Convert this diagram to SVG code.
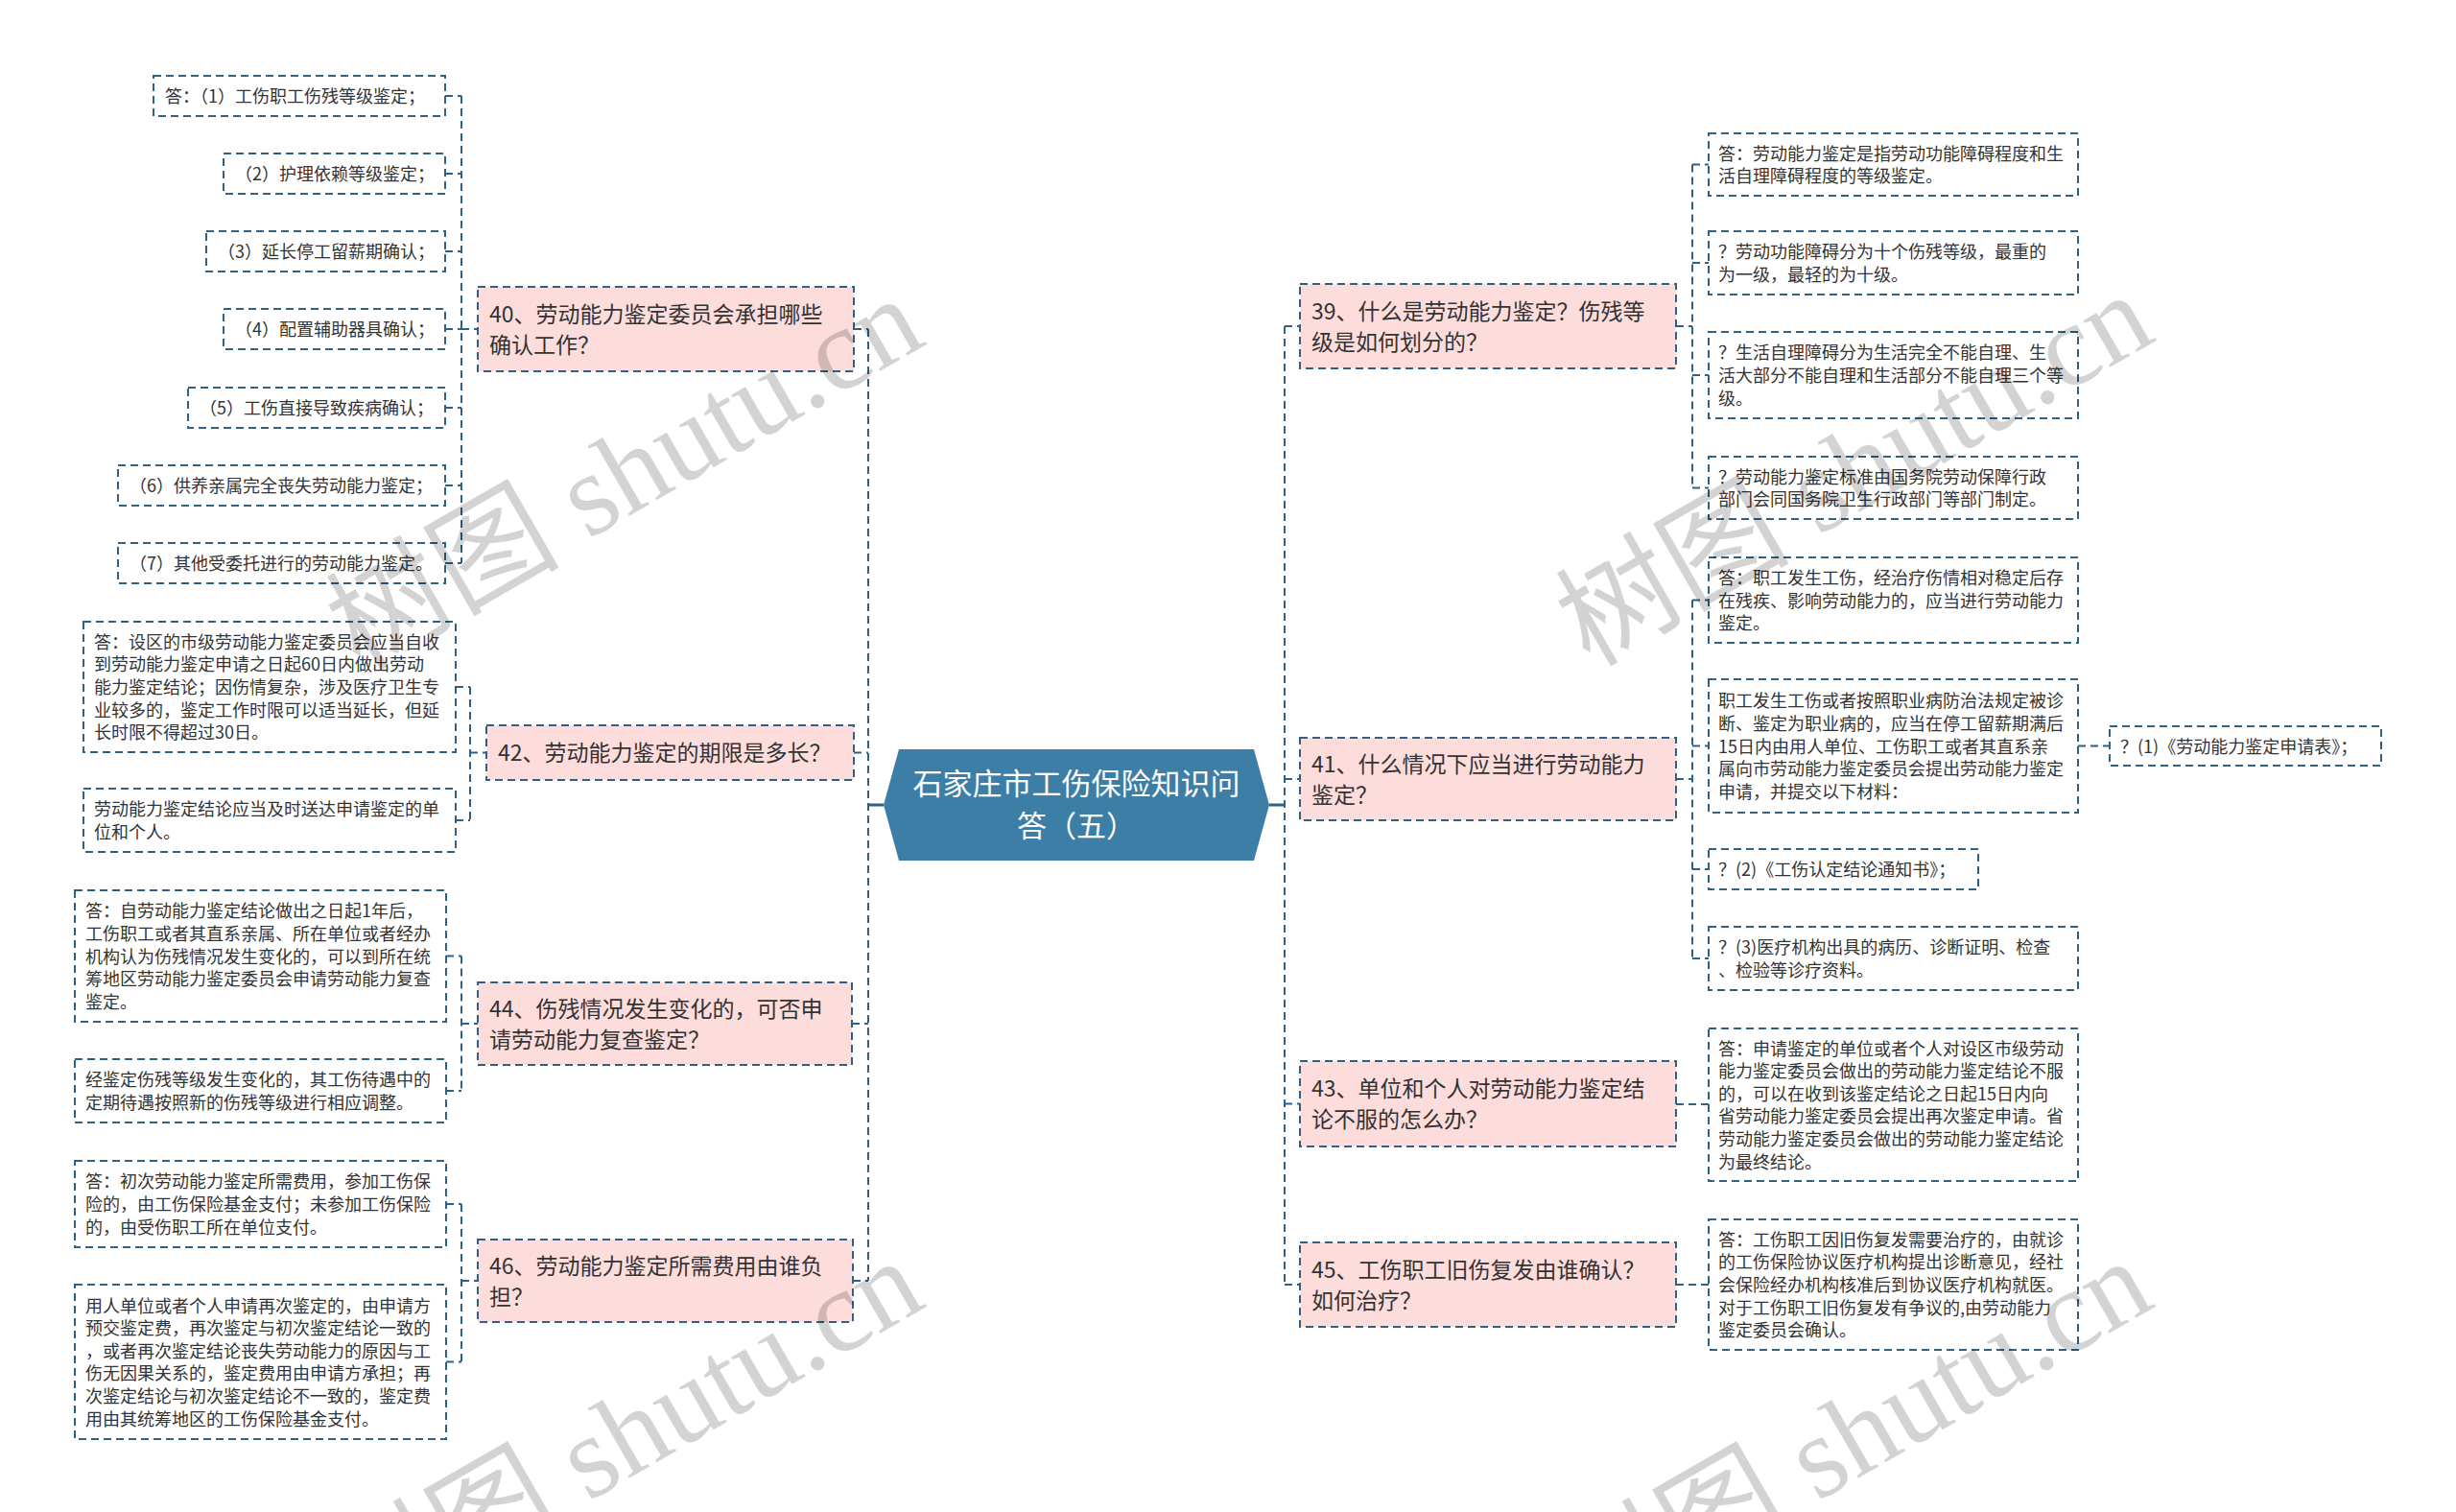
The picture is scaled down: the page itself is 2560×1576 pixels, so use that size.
<svg xmlns="http://www.w3.org/2000/svg" width="2560" height="1576" viewBox="0 0 2560 1576">
<style>
.bg{fill:#ffffff}
.leaf{fill:#ffffff;stroke:#2e6183;stroke-width:2;stroke-dasharray:8 5}
.sub{fill:#fddcdc;stroke:#2e6183;stroke-width:2;stroke-dasharray:8 5}
.root{fill:#3d7ea7}
.t{font-family:"Noto Sans CJK SC","Noto Sans",sans-serif;font-size:18px;fill:#333333}
.ts{font-family:"Noto Sans CJK SC","Noto Sans",sans-serif;font-size:23px;fill:#333333}
.tr{font-family:"Noto Sans CJK SC","Noto Sans",sans-serif;font-size:31px;fill:#ffffff;text-anchor:middle}
.c{fill:none;stroke:#2e6183;stroke-width:2;stroke-dasharray:8 5}
.cs{fill:none;stroke:#2e6183;stroke-width:3}
.wm{font-family:"Liberation Serif","Noto Sans CJK SC",serif;font-size:122px;fill:#000000;opacity:0.17}
</style>
<rect class="bg" x="0" y="0" width="2560" height="1576"/>

<g id="connectors">
  <line class="cs" x1="905" y1="839" x2="921" y2="839"/>
  <line class="cs" x1="1323" y1="839" x2="1339" y2="839"/>
  <path class="c" d="M905 343 V1335 M890 343 H905 M890 784.5 H905 M888 1067 H905 M889 1335 H905"/>
  <path class="c" d="M1339 340 V1339 M1339 340 H1355 M1339 812 H1355 M1339 1150.5 H1355 M1339 1339 H1355"/>
  <path class="c" d="M481 100 V587 M464 100 H481 M464 181 H481 M464 262 H481 M464 343 H481 M464 425 H481 M464 506 H481 M464 587 H481 M481 343 H498"/>
  <path class="c" d="M490 716 V855 M475 716 H490 M475 855 H490 M490 784.5 H507"/>
  <path class="c" d="M481 996.5 V1137 M465 996.5 H481 M465 1137 H481 M481 1067 H498"/>
  <path class="c" d="M481 1255 V1419.5 M465 1255 H481 M465 1419.5 H481 M481 1335 H498"/>
  <path class="c" d="M1764 171.5 V508.5 M1764 171.5 H1781 M1764 274 H1781 M1764 391 H1781 M1764 508.5 H1781 M1747 340 H1764"/>
  <path class="c" d="M1764 625.5 V999 M1764 625.5 H1781 M1764 777.5 H1781 M1764 906 H1781 M1764 999 H1781 M1747 812 H1764"/>
  <path class="c" d="M2166 777.5 H2199"/>
  <path class="c" d="M1747 1151 H1781"/>
  <path class="c" d="M1747 1339 H1781"/>
</g>

<g id="root">
  <polygon class="root" points="921,839 937,781 1307,781 1323,839 1307,897 937,897"/>
  <text class="tr" x="1122" y="828">石家庄市工伤保险知识问</text>
  <text class="tr" x="1122" y="872">答（五）</text>
</g>

<g id="n40">
  <rect class="sub" x="498" y="299" width="392" height="88"/>
  <text class="ts" x="510" y="335.7">40、劳动能力鉴定委员会承担哪些</text>
  <text class="ts" x="510" y="367.7">确认工作？</text>
</g>
<g id="n40-1"><rect class="leaf" x="160" y="79" width="304" height="42"/><text class="t" x="172" y="107">答：（1）工伤职工伤残等级鉴定；</text></g>
<g id="n40-2"><rect class="leaf" x="233" y="160" width="231" height="42"/><text class="t" x="245" y="188">（2）护理依赖等级鉴定；</text></g>
<g id="n40-3"><rect class="leaf" x="215" y="241" width="249" height="42"/><text class="t" x="227" y="269">（3）延长停工留薪期确认；</text></g>
<g id="n40-4"><rect class="leaf" x="233" y="322" width="231" height="42"/><text class="t" x="245" y="350">（4）配置辅助器具确认；</text></g>
<g id="n40-5"><rect class="leaf" x="196" y="404" width="268" height="42"/><text class="t" x="208" y="432">（5）工伤直接导致疾病确认；</text></g>
<g id="n40-6"><rect class="leaf" x="123" y="485" width="341" height="42"/><text class="t" x="135" y="513">（6）供养亲属完全丧失劳动能力鉴定；</text></g>
<g id="n40-7"><rect class="leaf" x="123" y="566" width="341" height="42"/><text class="t" x="135" y="594">（7）其他受委托进行的劳动能力鉴定。</text></g>

<g id="n42">
  <rect class="sub" x="507" y="756" width="383" height="57"/>
  <text class="ts" x="519" y="793">42、劳动能力鉴定的期限是多长？</text>
</g>
<g id="n42-1">
  <rect class="leaf" x="87" y="648" width="388" height="136"/>
  <text class="t" x="98" y="675.8">答：设区的市级劳动能力鉴定委员会应当自收</text>
  <text class="t" x="98" y="699.4">到劳动能力鉴定申请之日起60日内做出劳动</text>
  <text class="t" x="98" y="723">能力鉴定结论；因伤情复杂，涉及医疗卫生专</text>
  <text class="t" x="98" y="746.6">业较多的，鉴定工作时限可以适当延长，但延</text>
  <text class="t" x="98" y="770.2">长时限不得超过30日。</text>
</g>
<g id="n42-2">
  <rect class="leaf" x="87" y="822" width="388" height="66"/>
  <text class="t" x="98" y="850.2">劳动能力鉴定结论应当及时送达申请鉴定的单</text>
  <text class="t" x="98" y="873.8">位和个人。</text>
</g>

<g id="n44">
  <rect class="sub" x="498" y="1024" width="390" height="86"/>
  <text class="ts" x="510" y="1059.7">44、伤残情况发生变化的，可否申</text>
  <text class="ts" x="510" y="1091.7">请劳动能力复查鉴定？</text>
</g>
<g id="n44-1">
  <rect class="leaf" x="78" y="928" width="387" height="137"/>
  <text class="t" x="89" y="956.3">答：自劳动能力鉴定结论做出之日起1年后，</text>
  <text class="t" x="89" y="979.9">工伤职工或者其直系亲属、所在单位或者经办</text>
  <text class="t" x="89" y="1003.5">机构认为伤残情况发生变化的，可以到所在统</text>
  <text class="t" x="89" y="1027.1">筹地区劳动能力鉴定委员会申请劳动能力复查</text>
  <text class="t" x="89" y="1050.7">鉴定。</text>
</g>
<g id="n44-2">
  <rect class="leaf" x="78" y="1104" width="387" height="66"/>
  <text class="t" x="89" y="1132.2">经鉴定伤残等级发生变化的，其工伤待遇中的</text>
  <text class="t" x="89" y="1155.8">定期待遇按照新的伤残等级进行相应调整。</text>
</g>

<g id="n46">
  <rect class="sub" x="498" y="1292" width="391" height="86"/>
  <text class="ts" x="510" y="1327.7">46、劳动能力鉴定所需费用由谁负</text>
  <text class="ts" x="510" y="1359.7">担？</text>
</g>
<g id="n46-1">
  <rect class="leaf" x="78" y="1210" width="387" height="90"/>
  <text class="t" x="89" y="1238.4">答：初次劳动能力鉴定所需费用，参加工伤保</text>
  <text class="t" x="89" y="1262">险的，由工伤保险基金支付；未参加工伤保险</text>
  <text class="t" x="89" y="1285.6">的，由受伤职工所在单位支付。</text>
</g>
<g id="n46-2">
  <rect class="leaf" x="78" y="1339" width="387" height="161"/>
  <text class="t" x="89" y="1367.5">用人单位或者个人申请再次鉴定的，由申请方</text>
  <text class="t" x="89" y="1391.1">预交鉴定费，再次鉴定与初次鉴定结论一致的</text>
  <text class="t" x="89" y="1414.7">，或者再次鉴定结论丧失劳动能力的原因与工</text>
  <text class="t" x="89" y="1438.3">伤无因果关系的，鉴定费用由申请方承担；再</text>
  <text class="t" x="89" y="1461.9">次鉴定结论与初次鉴定结论不一致的，鉴定费</text>
  <text class="t" x="89" y="1485.5">用由其统筹地区的工伤保险基金支付。</text>
</g>

<g id="n39">
  <rect class="sub" x="1355" y="296" width="392" height="88"/>
  <text class="ts" x="1367" y="332.7">39、什么是劳动能力鉴定？伤残等</text>
  <text class="ts" x="1367" y="364.7">级是如何划分的？</text>
</g>
<g id="n39-1">
  <rect class="leaf" x="1781" y="139" width="385" height="65"/>
  <text class="t" x="1791" y="166.7">答：劳动能力鉴定是指劳动功能障碍程度和生</text>
  <text class="t" x="1791" y="190.3">活自理障碍程度的等级鉴定。</text>
</g>
<g id="n39-2">
  <rect class="leaf" x="1781" y="241" width="385" height="66"/>
  <text class="t" x="1791" y="269.2">？劳动功能障碍分为十个伤残等级，最重的</text>
  <text class="t" x="1791" y="292.8">为一级，最轻的为十级。</text>
</g>
<g id="n39-3">
  <rect class="leaf" x="1781" y="346" width="385" height="90"/>
  <text class="t" x="1791" y="374.4">？生活自理障碍分为生活完全不能自理、生</text>
  <text class="t" x="1791" y="398">活大部分不能自理和生活部分不能自理三个等</text>
  <text class="t" x="1791" y="421.6">级。</text>
</g>
<g id="n39-4">
  <rect class="leaf" x="1781" y="476" width="385" height="65"/>
  <text class="t" x="1791" y="503.7">？劳动能力鉴定标准由国务院劳动保障行政</text>
  <text class="t" x="1791" y="527.3">部门会同国务院卫生行政部门等部门制定。</text>
</g>

<g id="n41">
  <rect class="sub" x="1355" y="769" width="392" height="86"/>
  <text class="ts" x="1367" y="804.7">41、什么情况下应当进行劳动能力</text>
  <text class="ts" x="1367" y="836.7">鉴定？</text>
</g>
<g id="n41-1">
  <rect class="leaf" x="1781" y="581" width="385" height="89"/>
  <text class="t" x="1791" y="608.9">答：职工发生工伤，经治疗伤情相对稳定后存</text>
  <text class="t" x="1791" y="632.5">在残疾、影响劳动能力的，应当进行劳动能力</text>
  <text class="t" x="1791" y="656.1">鉴定。</text>
</g>
<g id="n41-2">
  <rect class="leaf" x="1781" y="708" width="385" height="139"/>
  <text class="t" x="1791" y="737.3">职工发生工伤或者按照职业病防治法规定被诊</text>
  <text class="t" x="1791" y="760.9">断、鉴定为职业病的，应当在停工留薪期满后</text>
  <text class="t" x="1791" y="784.5">15日内由用人单位、工伤职工或者其直系亲</text>
  <text class="t" x="1791" y="808.1">属向市劳动能力鉴定委员会提出劳动能力鉴定</text>
  <text class="t" x="1791" y="831.7">申请，并提交以下材料：</text>
</g>
<g id="n41-2-1">
  <rect class="leaf" x="2199" y="757" width="283" height="41"/>
  <text class="t" x="2210" y="784.5">？(1)《劳动能力鉴定申请表》；</text>
</g>
<g id="n41-3">
  <rect class="leaf" x="1781" y="885" width="281" height="42"/>
  <text class="t" x="1791" y="913">？(2)《工伤认定结论通知书》；</text>
</g>
<g id="n41-4">
  <rect class="leaf" x="1781" y="966" width="385" height="66"/>
  <text class="t" x="1791" y="994.2">？(3)医疗机构出具的病历、诊断证明、检查</text>
  <text class="t" x="1791" y="1017.8">、检验等诊疗资料。</text>
</g>

<g id="n43">
  <rect class="sub" x="1355" y="1106" width="392" height="89"/>
  <text class="ts" x="1367" y="1143.2">43、单位和个人对劳动能力鉴定结</text>
  <text class="ts" x="1367" y="1175.2">论不服的怎么办？</text>
</g>
<g id="n43-1">
  <rect class="leaf" x="1781" y="1072" width="385" height="159"/>
  <text class="t" x="1791" y="1099.5">答：申请鉴定的单位或者个人对设区市级劳动</text>
  <text class="t" x="1791" y="1123.1">能力鉴定委员会做出的劳动能力鉴定结论不服</text>
  <text class="t" x="1791" y="1146.7">的，可以在收到该鉴定结论之日起15日内向</text>
  <text class="t" x="1791" y="1170.3">省劳动能力鉴定委员会提出再次鉴定申请。省</text>
  <text class="t" x="1791" y="1193.9">劳动能力鉴定委员会做出的劳动能力鉴定结论</text>
  <text class="t" x="1791" y="1217.5">为最终结论。</text>
</g>

<g id="n45">
  <rect class="sub" x="1355" y="1295" width="392" height="88"/>
  <text class="ts" x="1367" y="1331.7">45、工伤职工旧伤复发由谁确认？</text>
  <text class="ts" x="1367" y="1363.7">如何治疗？</text>
</g>
<g id="n45-1">
  <rect class="leaf" x="1781" y="1271" width="385" height="136"/>
  <text class="t" x="1791" y="1298.8">答：工伤职工因旧伤复发需要治疗的，由就诊</text>
  <text class="t" x="1791" y="1322.4">的工伤保险协议医疗机构提出诊断意见，经社</text>
  <text class="t" x="1791" y="1346">会保险经办机构核准后到协议医疗机构就医。</text>
  <text class="t" x="1791" y="1369.6">对于工伤职工旧伤复发有争议的,由劳动能力</text>
  <text class="t" x="1791" y="1393.2">鉴定委员会确认。</text>
</g>

<g id="watermarks">
  <text class="wm" transform="translate(375 700) rotate(-30)">树图 shutu.cn</text>
  <text class="wm" transform="translate(1657 696) rotate(-30)">树图 shutu.cn</text>
  <text class="wm" transform="translate(375 1703) rotate(-30)">树图 shutu.cn</text>
  <text class="wm" transform="translate(1656 1703) rotate(-30)">树图 shutu.cn</text>
</g>
</svg>
